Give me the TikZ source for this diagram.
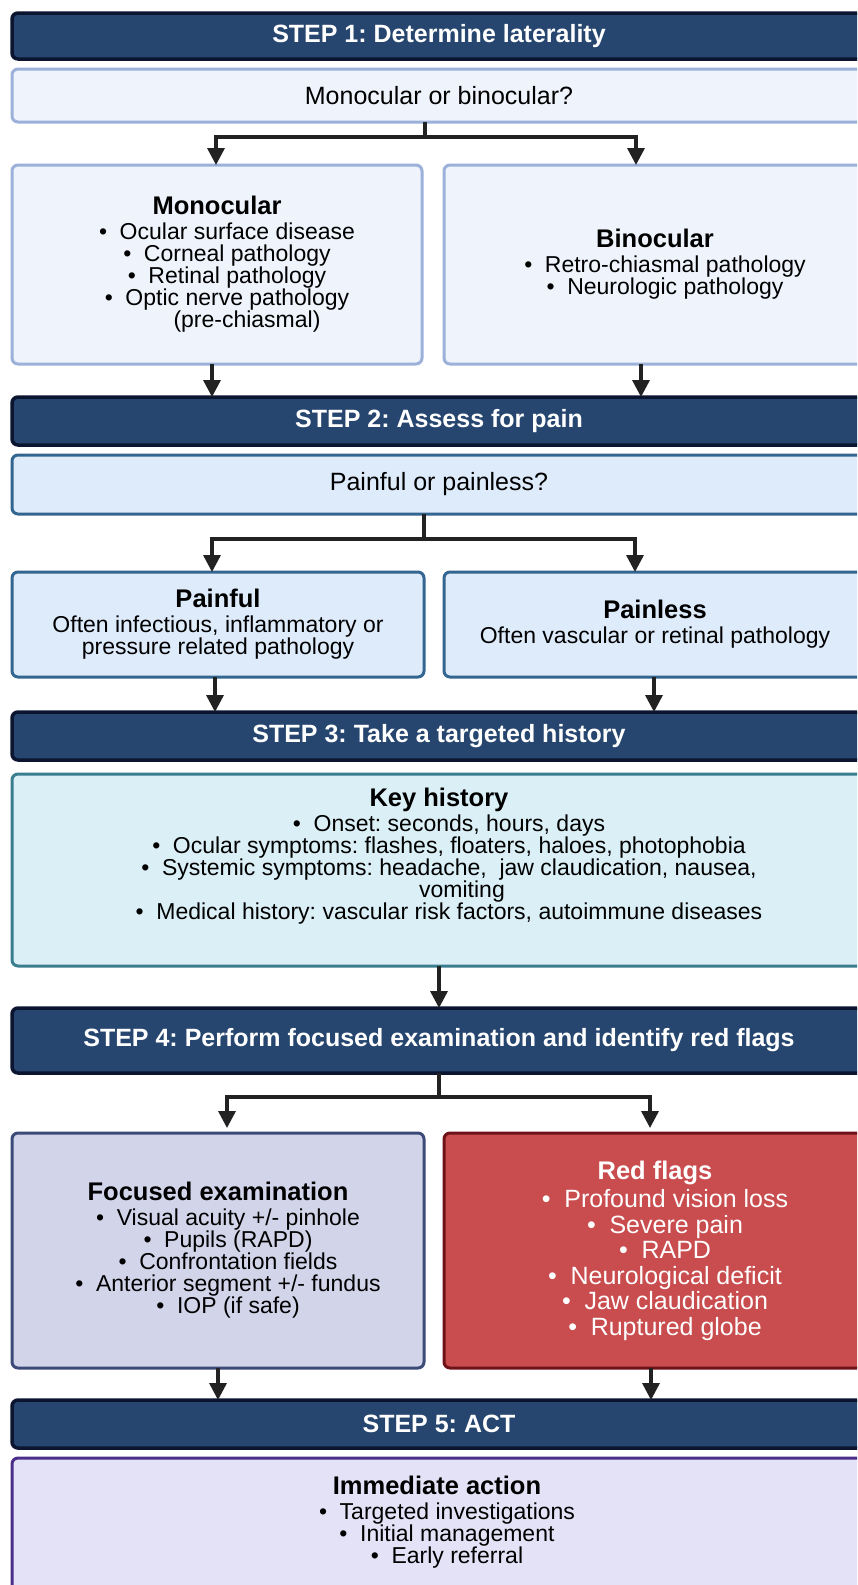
\documentclass[tikz,border=0pt]{standalone}
\usepackage{fontspec}
\setmainfont{Liberation Sans}
\usetikzlibrary{arrows.meta,calc}
\frenchspacing
\definecolor{stepfill}{HTML}{26466F}
\definecolor{stepdraw}{HTML}{0B1530}
\definecolor{qafill}{HTML}{EEF3FC}
\definecolor{qadraw}{HTML}{9BB1D9}
\definecolor{qbfill}{HTML}{DEEBFB}
\definecolor{qbdraw}{HTML}{336591}
\definecolor{keyfill}{HTML}{DAEFF6}
\definecolor{keydraw}{HTML}{3A7D8E}
\definecolor{focfill}{HTML}{D2D5EA}
\definecolor{focdraw}{HTML}{3B4A78}
\definecolor{redfill}{HTML}{C94C4E}
\definecolor{reddraw}{HTML}{6E1218}
\definecolor{immfill}{HTML}{E4E2F6}
\definecolor{immdraw}{HTML}{4A2E8A}
\definecolor{arrcol}{HTML}{222222}
\newcommand\mybul{\hspace*{20pt}•\hspace{0.55em}}
\newcommand\ttl[1]{{\fontsize{25.5}{26}\selectfont\bfseries #1}\\[3pt]}
\newcommand\tightlines{\lineskiplimit=-60pt\relax}
\begin{document}
\begin{tikzpicture}[x=1pt,y=-1pt,
  every node/.style={inner sep=0pt,outer sep=0pt},
  stepbar/.style={draw=stepdraw,fill=stepfill,line width=3.5pt,rounded corners=6pt,
     minimum height=#1,minimum width=854pt,text=white,
     font={\fontsize{25}{28}\selectfont\bfseries}},
  qbox/.style={draw=#1draw,fill=#1fill,line width=3pt,rounded corners=6pt},
  listtext/.style={align=center,font={\fontsize{23}{22}\selectfont\tightlines}},
  bigtext/.style={align=center,font={\fontsize{25}{25.5}\selectfont\tightlines}},
  conn/.style={draw=arrcol,line width=3.4pt},
  arr/.style={draw=arrcol,line width=3.4pt,-{Triangle[length=17pt,width=17pt]}}
]
\useasboundingbox (0,0) rectangle (857,1585);
\clip (0,0) rectangle (857,1585);
\fill[white] (0,0) rectangle (857,1585);

% STEP 1
\node[stepbar=46pt] (s1) at (439,36) {STEP 1: Determine laterality};
\node[qbox=qa,minimum width=854pt,minimum height=53pt,font={\fontsize{25}{28}\selectfont}] (q1) at (439,95.5) {Monocular or binocular?};
\node[qbox=qa,minimum width=410pt,minimum height=199pt,listtext] (mono) at (217,264.5)
  {\ttl{Monocular}
   \mybul Ocular surface disease\\
   \mybul Corneal pathology\\
   \mybul Retinal pathology\\
   \mybul Optic nerve pathology\\
   \hspace*{60pt}(pre-chiasmal)};
\node[qbox=qa,minimum width=422pt,minimum height=199pt,listtext] (bino) at (655,264.5)
  {\ttl{Binocular}
   \mybul Retro-chiasmal pathology\\
   \mybul Neurologic pathology};

\coordinate (j1) at (425,137);
\draw[conn] (j1 |- q1.south) -- (j1);
\draw[arr] (j1) -- (216,137) -- ([xshift=-1pt]mono.north);
\draw[arr] (j1) -- (636,137) -- ([xshift=-19pt]bino.north);

% STEP 2
\node[stepbar=48pt] (s2) at (439,421) {STEP 2: Assess for pain};
\draw[arr] ([xshift=-5pt]mono.south) -- ([xshift=-5pt]mono.south |- s2.north);
\draw[arr] ([xshift=-14pt]bino.south) -- ([xshift=-14pt]bino.south |- s2.north);

\node[qbox=qb,minimum width=854pt,minimum height=59pt,font={\fontsize{25}{28}\selectfont}] (q2) at (439,484.5) {Painful or painless?};
\node[qbox=qb,minimum width=412pt,minimum height=105pt,listtext] (pful) at (218,624.5)
  {\ttl{Painful}
   Often infectious, inflammatory or\\
   pressure related pathology};
\node[qbox=qb,minimum width=422pt,minimum height=105pt,listtext] (pless) at (655,624.5)
  {\ttl{Painless}
   Often vascular or retinal pathology};

\coordinate (j2) at (424,539);
\draw[conn] (j2 |- q2.south) -- (j2);
\draw[arr] (j2) -- (212,539) -- ([xshift=-6pt]pful.north);
\draw[arr] (j2) -- (635,539) -- ([xshift=-20pt]pless.north);

% STEP 3
\node[stepbar=48pt] (s3) at (439,736) {STEP 3: Take a targeted history};
\draw[arr] ([xshift=-3pt]pful.south) -- ([xshift=-3pt]pful.south |- s3.north);
\draw[arr] ([xshift=-1pt]pless.south) -- ([xshift=-1pt]pless.south |- s3.north);

\node[qbox=key,minimum width=854pt,minimum height=192pt] (key) at (439,870) {};
\node[listtext] (keytxt) at (439,856)
  {\ttl{Key history}
   \mybul Onset: seconds, hours, days\\
   \mybul Ocular symptoms: flashes, floaters, haloes, photophobia\\
   \mybul Systemic symptoms: headache,\ \ jaw claudication, nausea,\\
   \hspace*{46pt}vomiting\\
   \mybul Medical history: vascular risk factors, autoimmune diseases};

% STEP 4
\node[stepbar=65pt] (s4) at (439,1040.5) {STEP 4: Perform focused examination and identify red flags};
\draw[arr] (key.south) -- (s4.north);

\node[qbox=foc,minimum width=412pt,minimum height=235pt,listtext] (foc) at (218,1250.5)
  {\ttl{Focused examination}
   \mybul Visual acuity +/- pinhole\\
   \mybul Pupils (RAPD)\\
   \mybul Confrontation fields\\
   \mybul Anterior segment +/- fundus\\
   \mybul IOP (if safe)};
\node[qbox=red,minimum width=422pt,minimum height=235pt,bigtext,text=white] (red) at (655,1250.5)
  {\ttl{Red flags}
   \mybul Profound vision loss\\
   \mybul Severe pain\\
   \mybul RAPD\\
   \mybul Neurological deficit\\
   \mybul Jaw claudication\\
   \mybul Ruptured globe};

\coordinate (j4) at (439,1097);
\draw[conn] (s4.south) -- (j4);
\draw[arr,shorten >=5pt] (j4) -- (227,1097) -- ([xshift=9pt]foc.north);
\draw[arr,shorten >=5pt] (j4) -- (650,1097) -- ([xshift=-5pt]red.north);

% STEP 5
\node[stepbar=48pt] (s5) at (439,1424) {STEP 5: ACT};
\draw[arr] (foc.south) -- (foc.south |- s5.north);
\draw[arr] ([xshift=-4pt]red.south) -- ([xshift=-4pt]red.south |- s5.north);

\node[qbox=imm,minimum width=854pt,minimum height=190pt] (imm) at (439,1553) {};
\node[listtext] (immtxt) at (437,1522)
  {\ttl{Immediate action}
   \mybul Targeted investigations\\
   \mybul Initial management\\
   \mybul Early referral};
\end{tikzpicture}
\end{document}
